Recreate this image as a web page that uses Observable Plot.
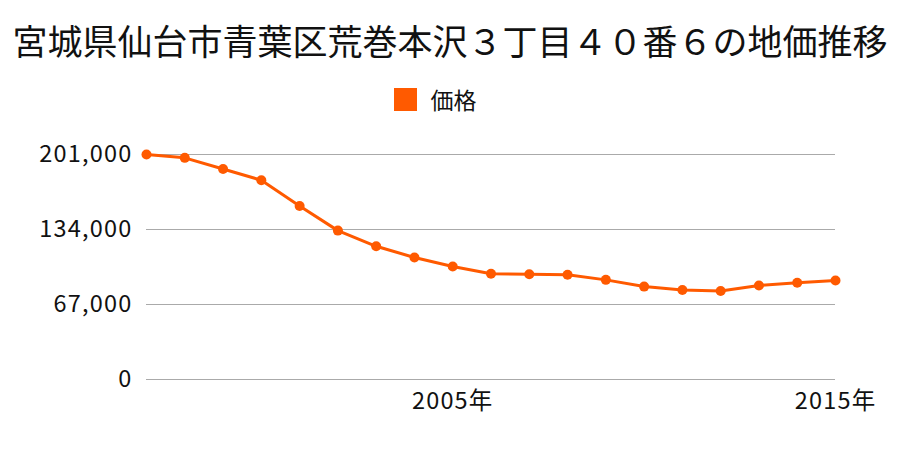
<!DOCTYPE html>
<html>
<head>
<meta charset="utf-8">
<script src="https://cdn.jsdelivr.net/npm/d3@7"></script>
<script src="https://cdn.jsdelivr.net/npm/@observablehq/plot@0.6"></script>
<style>
  html, body { margin: 0; padding: 0; background: #fff; }
  body { width: 900px; height: 450px; overflow: hidden; font-family: "Noto Sans CJK JP", sans-serif; }
  #title { height: 84px; line-height: 80px; text-align: center; font-size: 35px; color: #111; white-space: nowrap; }
  #legend { height: 30px; display: flex; align-items: center; justify-content: center; font-size: 23px; color: #111; padding-right: 30px; }
  #legend .sw { width: 23px; height: 23px; margin-right: 14px; }
  #chart svg text { letter-spacing: 1.2px; }
</style>
</head>
<body>
<div id="title"></div>
<div id="legend"><span class="sw"></span><span id="legend-label"></span></div>
<div id="chart"></div>
<script>
const titleText = "宮城県仙台市青葉区荒巻本沢３丁目４０番６の地価推移";
const seriesName = "価格";
const years = [1997,1998,1999,2000,2001,2002,2003,2004,2005,2006,2007,2008,2009,2010,2011,2012,2013,2014,2015];
const prices = [201000,198000,188000,178000,155000,133000,119000,109000,101000,94500,94000,93500,89000,83000,80000,79000,84000,86500,88500];
const yTicks = [0,67000,134000,201000];
const xTicks = [2005,2015];
const color = "#ff5a00";

document.getElementById("title").textContent = titleText;
document.getElementById("legend-label").textContent = seriesName;
document.querySelector("#legend .sw").style.background = color;

const data = years.map((y, i) => ({year: y, price: prices[i]}));

const chart = Plot.plot({
  width: 900,
  height: 336,
  marginTop: 40,
  marginBottom: 71,
  marginLeft: 146,
  marginRight: 65,
  style: {fontSize: "23.5px", fontFamily: "Noto Sans CJK JP, sans-serif", color: "#111", background: "#fff"},
  x: {domain: [1997, 2015], ticks: xTicks, tickFormat: d => `${d}年`, tickSize: 0, tickPadding: 13, label: null},
  y: {domain: [0, 201000], ticks: yTicks, tickFormat: d3.format(","), tickSize: 0, tickPadding: 14, label: null},
  marks: [
    Plot.ruleY(yTicks, {stroke: "#aaaaaa", strokeWidth: 1}),
    Plot.line(data, {x: "year", y: "price", stroke: color, strokeWidth: 3}),
    Plot.dot(data, {x: "year", y: "price", fill: color, r: 5})
  ]
});
document.getElementById("chart").appendChild(chart);
</script>
</body>
</html>
